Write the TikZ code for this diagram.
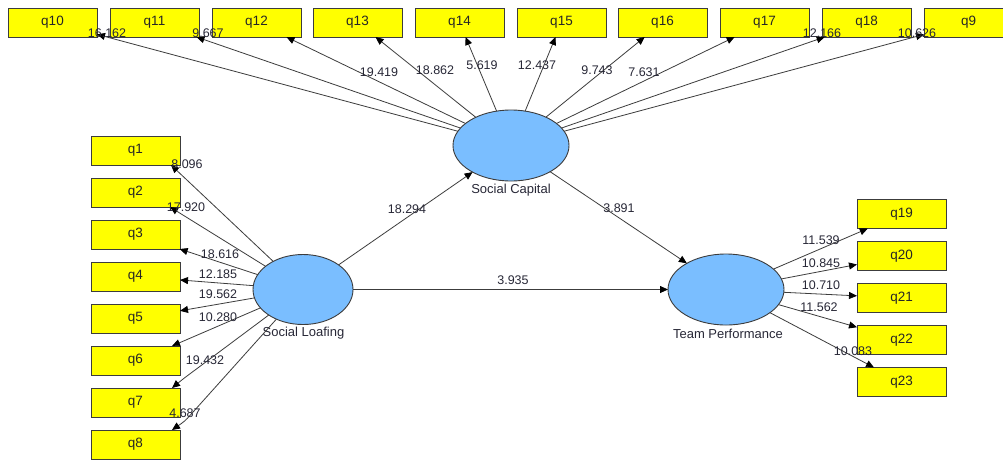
\documentclass[tikz,border=0pt]{standalone}
\usepackage{fontspec}
\setmainfont{Liberation Sans}
\usetikzlibrary{arrows.meta,shapes.geometric,calc}
\definecolor{boxyellow}{RGB}{255,255,0}
\definecolor{latblue}{RGB}{122,190,255}
\definecolor{edgegray}{RGB}{60,60,60}
\definecolor{numgray}{RGB}{40,40,55}
\begin{document}
\begin{tikzpicture}[x=1pt,y=-1pt,
  ind/.style={draw=edgegray, line width=0.9pt, fill=boxyellow, minimum width=89pt, minimum height=29pt, inner sep=0pt, outer sep=0pt, font=\fontsize{13.5}{14}\selectfont, text=black!85},
  lat/.style={ellipse, draw=edgegray, line width=0.9pt, fill=latblue, inner sep=0pt, outer sep=0pt},
  latlabel/.style={font=\fontsize{13}{14}\selectfont, text=numgray, inner sep=0pt},
  num/.style={font=\fontsize{12.5}{13}\selectfont, text=numgray, inner sep=0pt},
  arr/.style={draw=edgegray, line width=0.8pt, -{Triangle[length=8pt,width=7pt,color=black]}}
]
\useasboundingbox[fill=white] (0,0) rectangle (1003,459);

% latent variables
\node[lat, minimum width=116pt, minimum height=71pt] (SC) at (511,145.5) {};
\node[lat, minimum width=100pt, minimum height=70pt] (SL) at (303,289.5) {};
\node[lat, minimum width=116pt, minimum height=71pt] (TP) at (726,289.5) {};
\node[latlabel] (SCl) at (511,190) {Social Capital};
\node[latlabel] (SLl) at (303.5,333) {Social Loafing};
\node[latlabel] (TPl) at (728,334) {Team Performance};

% top indicators
\node[ind] (q10) at (52.5,22.5) {q10};
\node[ind] (q11) at (154.5,22.5) {q11};
\node[ind] (q12) at (256.5,22.5) {q12};
\node[ind] (q13) at (357.5,22.5) {q13};
\node[ind] (q14) at (459.5,22.5) {q14};
\node[ind] (q15) at (561.5,22.5) {q15};
\node[ind] (q16) at (662.5,22.5) {q16};
\node[ind] (q17) at (764.5,22.5) {q17};
\node[ind] (q18) at (866.5,22.5) {q18};
\node[ind] (q9) at (968.5,22.5) {q9};

% left indicators
\node[ind] (q1) at (135.5,150.5) {q1};
\node[ind] (q2) at (135.5,192.5) {q2};
\node[ind] (q3) at (135.5,234.5) {q3};
\node[ind] (q4) at (135.5,276.5) {q4};
\node[ind] (q5) at (135.5,318.5) {q5};
\node[ind] (q6) at (135.5,360.5) {q6};
\node[ind] (q7) at (135.5,402.5) {q7};
\node[ind] (q8) at (135.5,444.5) {q8};

% right indicators
\node[ind] (q19) at (901.5,214) {q19};
\node[ind] (q20) at (901.5,256) {q20};
\node[ind] (q21) at (901.5,298) {q21};
\node[ind] (q22) at (901.5,340) {q22};
\node[ind] (q23) at (901.5,382) {q23};

% Social Capital loadings
\foreach \q in {q10,q11,q12,q13,q14,q15,q16,q17,q18,q9}
  \draw[arr] (SC) -- (\q);

% Social Loafing loadings
\draw[arr] (SL) -- ([xshift=-9pt]q1.south east);
\draw[arr] (SL) -- ([xshift=-10pt]q2.south east);
\draw[arr] (SL) -- (q3);
\draw[arr] (SL) -- (q4);
\draw[arr] (SL) -- (q5);
\draw[arr] (SL) -- ([xshift=-8pt]q6.north east);
\draw[arr, rounded corners=4pt] (SL) -- ($(q7.north east)+(3,-9)$) -- ([xshift=-8pt]q7.north east);
\draw[arr, rounded corners=4pt] (SL) -- ($(q8.north east)+(5,-9)$) -- ([xshift=-8pt]q8.north east);

% Team Performance loadings
\foreach \q in {q19,q20,q21,q22,q23}
  \draw[arr] (TP) -- (\q);

% structural paths
\draw[arr] (SL) -- (SC);
\draw[arr] (SC) -- (TP);
\draw[arr] (SL) -- (TP);

% numbers
\node[num] (n10) at (107,33) {16.162};
\node[num] (n11) at (208,33) {9.667};
\node[num] (n12) at (379,72) {19.419};
\node[num] (n13) at (435,70) {18.862};
\node[num] (n14) at (482,65) {5.619};
\node[num] (n15) at (537,65) {12.437};
\node[num] (n16) at (597,70) {9.743};
\node[num] (n17) at (644,72) {7.631};
\node[num] (n18) at (822,33) {12.166};
\node[num] (n9) at (917,33) {10.626};

\node[num] (n1) at (187,164) {8.096};
\node[num] (n2) at (186,207) {17.920};
\node[num] (n3) at (220,254) {18.616};
\node[num] (n4) at (218,274) {12.185};
\node[num] (n5) at (218,294) {19.562};
\node[num] (n6) at (218,317) {10.280};
\node[num] (n7) at (205,360) {19.432};
\node[num] (n8) at (185,413) {4.687};

\node[num] (n19) at (821,240) {11.539};
\node[num] (n20) at (821,263) {10.845};
\node[num] (n21) at (821,285) {10.710};
\node[num] (n22) at (819,307) {11.562};
\node[num] (n23) at (853,351) {10.083};

\node[num] (nSLSC) at (407,209) {18.294};
\node[num] (nSCTP) at (619,208) {3.891};
\node[num] (nSLTP) at (513,280) {3.935};
\end{tikzpicture}
\end{document}
